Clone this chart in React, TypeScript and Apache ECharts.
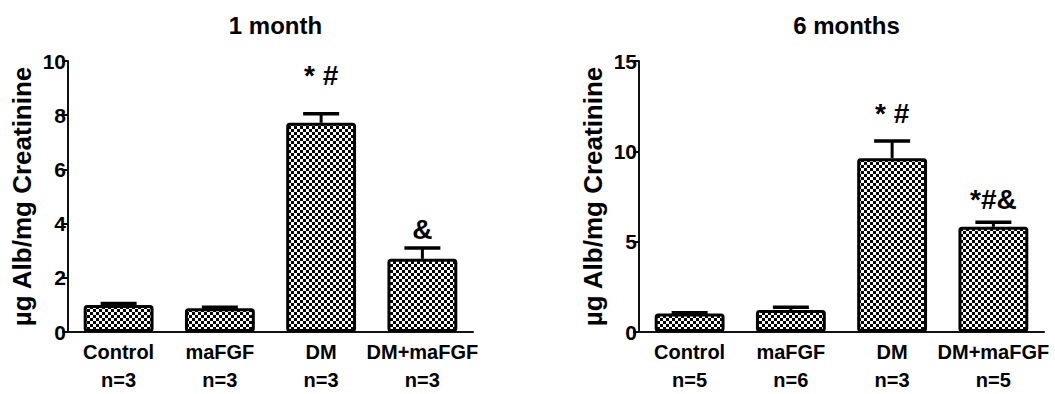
import React, { useEffect, useRef } from "react";
import * as echarts from "echarts";

const categories = ["Control", "maFGF", "DM", "DM+maFGF"];
const nMonth1 = [3, 3, 3, 3];
const nMonth6 = [5, 6, 3, 5];
const month1Mean = [1.0, 0.88, 7.72, 2.7];
const month1Err = [0.05, 0.03, 0.33, 0.4];
const month6Mean = [1.02, 1.22, 9.62, 5.82];
const month6Err = [0.05, 0.15, 0.95, 0.25];
const month1Marks = ["", "", "* #", "&"];
const month1MarkY = [0, 0, 9.45, 3.8];
const month6Marks = ["", "", "* #", "*#&"];
const month6MarkY = [0, 0, 12.1, 7.33];
const yTicks1 = { min: 0, max: 10, interval: 2 };
const yTicks6 = { min: 0, max: 15, interval: 5 };

const FONT = "'Liberation Sans', Arial, sans-serif";

function makePattern() {
  const c = document.createElement("canvas");
  c.width = 6;
  c.height = 6;
  const ctx = c.getContext("2d")!;
  ctx.fillStyle = "#fff";
  ctx.fillRect(0, 0, 6, 6);
  ctx.fillStyle = "#000";
  ctx.fillRect(0, 0, 3, 3);
  ctx.fillRect(3, 3, 3, 3);
  return c;
}

export default function App() {
  const ref = useRef<HTMLDivElement>(null);
  useEffect(() => {
    document.body.style.margin = "0";
    const chart = echarts.init(ref.current!, null, { renderer: "svg" });
    const pattern = makePattern();

    const grids = [
      { left: 68, right: 582, top: 61, bottom: 61 },
      { left: 639, right: 11, top: 61, bottom: 61 },
    ];
    const panels = [
      { title: "1 month", n: nMonth1, mean: month1Mean, err: month1Err, marks: month1Marks, markY: month1MarkY, ticks: yTicks1, cx: 270.5 },
      { title: "6 months", n: nMonth6, mean: month6Mean, err: month6Err, marks: month6Marks, markY: month6MarkY, ticks: yTicks6, cx: 841.5 },
    ];

    const xAxis = panels.map((p, i) => ({
      type: "category",
      gridIndex: i,
      data: categories.map((c, k) => c + "\nn=" + p.n[k]),
      axisLine: { lineStyle: { color: "#111", width: 2 } },
      axisTick: { alignWithLabel: true, length: 6, lineStyle: { color: "#000", width: 2 } },
      axisLabel: {
        interval: 0,
        margin: 6,
        color: "#000",
        fontFamily: FONT,
        fontWeight: "bold",
        fontSize: 20,
        lineHeight: 28,
      },
    }));

    const yAxis = panels.map((p, i) => ({
      type: "value",
      gridIndex: i,
      min: p.ticks.min,
      max: p.ticks.max,
      interval: p.ticks.interval,
      name: "µg Alb/mg Creatinine",
      nameLocation: "middle",
      nameGap: 33,
      nameTextStyle: { color: "#000", fontFamily: FONT, fontWeight: "bold", fontSize: 26 },
      splitLine: { show: false },
      axisLine: { show: true, lineStyle: { color: "#111", width: 2 } },
      axisTick: { show: true, length: 6, lineStyle: { color: "#000", width: 2 } },
      axisLabel: { color: "#000", fontFamily: FONT, fontWeight: "bold", fontSize: 21, margin: 2 },
    }));

    const series: any[] = [];
    panels.forEach((p, i) => {
      series.push({
        type: "bar",
        xAxisIndex: i,
        yAxisIndex: i,
        data: p.mean,
        barWidth: "69%",
        itemStyle: {
          color: { image: pattern, repeat: "repeat" },
          borderColor: "#000",
          borderWidth: 3,
          borderRadius: 2,
        },
        z: 2,
      });
      series.push({
        type: "custom",
        xAxisIndex: i,
        yAxisIndex: i,
        z: 3,
        data: p.mean.map((m, k) => [k, m, p.err[k], p.markY[k]]),
        renderItem: (params: any, api: any) => {
          const k = api.value(0);
          const m = api.value(1);
          const e = api.value(2);
          const base = api.coord([k, m]);
          const top = api.coord([k, m + e]);
          const half = 18;
          const children: any[] = [
            {
              type: "line",
              shape: { x1: base[0], y1: base[1], x2: top[0], y2: top[1] },
              style: { stroke: "#000", lineWidth: 3 },
            },
            {
              type: "line",
              shape: { x1: top[0] - half, y1: top[1], x2: top[0] + half, y2: top[1] },
              style: { stroke: "#000", lineWidth: 3.5 },
            },
          ];
          const label = p.marks[params.dataIndex];
          if (label) {
            const pos = api.coord([k, api.value(3)]);
            children.push({
              type: "text",
              x: pos[0],
              y: pos[1],
              style: {
                text: label,
                fill: "#000",
                font: "bold 28px " + FONT,
                align: "center",
                verticalAlign: "middle",
              },
            });
          }
          return { type: "group", children };
        },
      });
    });

    chart.setOption({
      animation: false,
      backgroundColor: "#fff",
      title: panels.map((p) => ({
        text: p.title,
        left: p.cx,
        top: 8,
        textAlign: "center",
        textStyle: { color: "#000", fontFamily: FONT, fontWeight: "bold", fontSize: 24 },
      })),
      grid: grids,
      xAxis,
      yAxis,
      series,
    });
    return () => chart.dispose();
  }, []);
  return <div ref={ref} style={{ width: 1055, height: 394 }} />;
}
